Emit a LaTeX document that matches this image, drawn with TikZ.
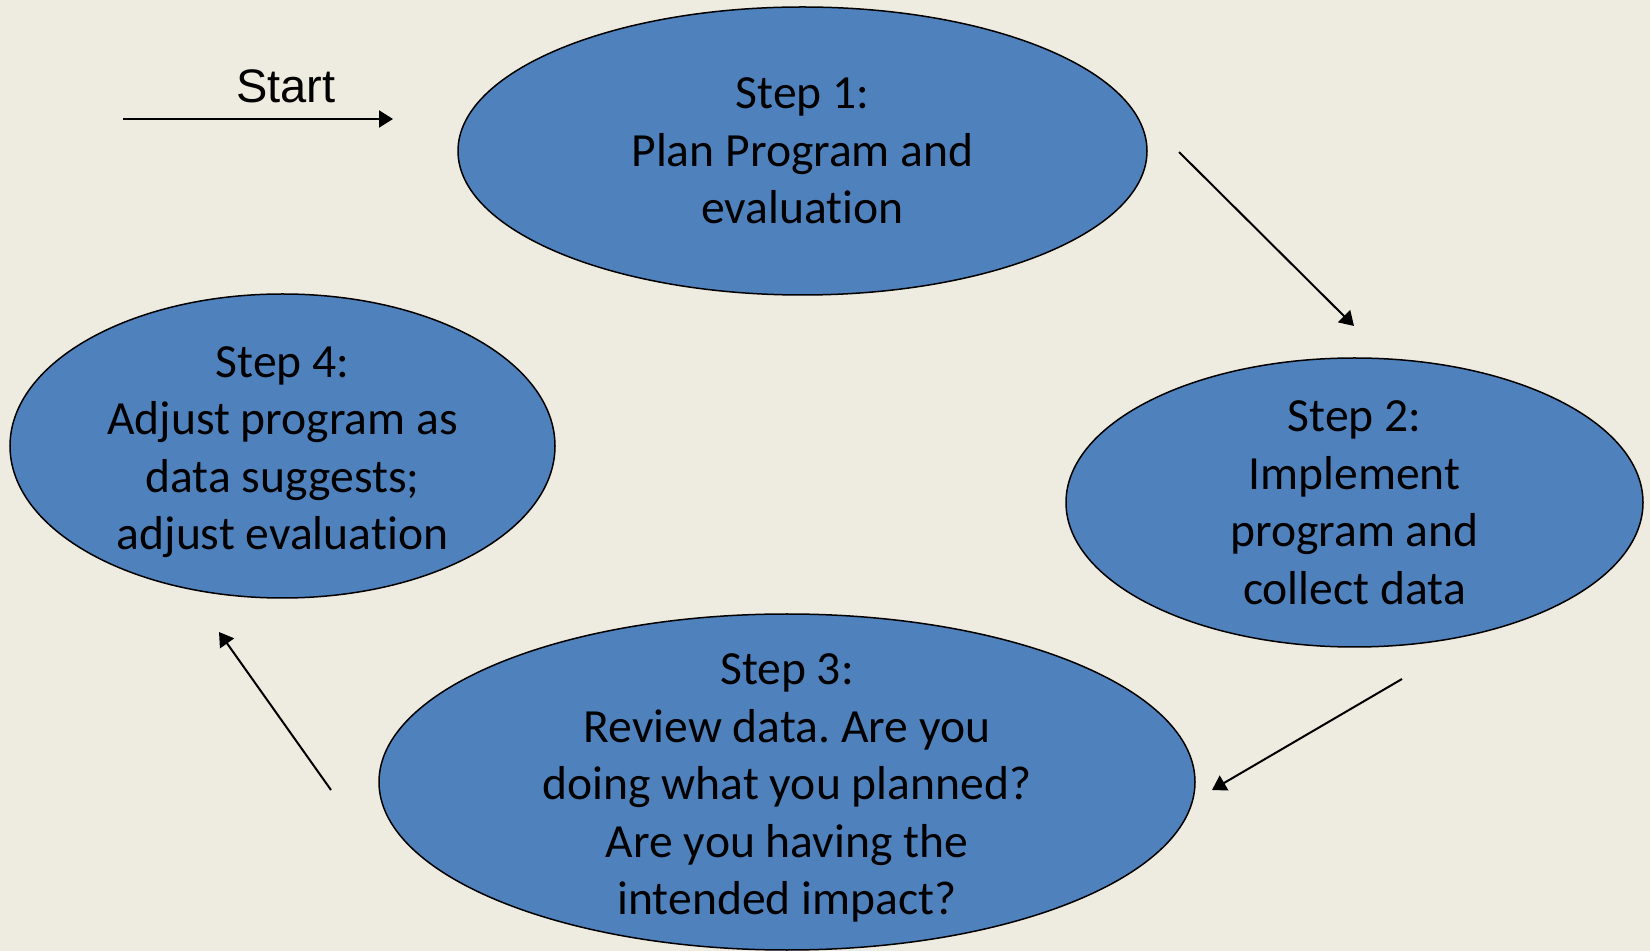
\documentclass[tikz,border=0pt]{standalone}
\usepackage{fontspec}
\setmainfont{Carlito}[Ligatures=NoCommon]
\newfontfamily\startfont{Liberation Sans}
\usepackage{xcolor}
\usetikzlibrary{shapes.geometric,arrows.meta}
\definecolor{pagebg}{RGB}{238,236,225}
\definecolor{stepblue}{RGB}{79,129,189}
\frenchspacing

\begin{document}
\begin{tikzpicture}[
    x=0.5pt, y=-0.5pt,
    stepbox/.style={ellipse, draw=black, line width=0.75pt, fill=stepblue, inner sep=0pt},
    steptext/.style={align=center, font=\fontsize{23.8}{28.75}\selectfont, inner sep=0pt},
    starttext/.style={font=\startfont\fontsize{23.5}{28}\selectfont, inner sep=0pt, anchor=base},
    flow/.style={-{Triangle[length=7pt,width=8.5pt]}, line width=1pt}
]
    % background and page size
    \fill[pagebg] (0,0) rectangle (1650,951);
    \useasboundingbox (0,0) rectangle (1650,951);

    % the four steps
    \node[stepbox, minimum width=344.5pt, minimum height=144pt,
        label={[steptext]center:{Step 1:\\Plan Program and\\evaluation}}] (s1) at (802.5,151) {};
    \node[stepbox, minimum width=288.5pt, minimum height=144.5pt,
        label={[steptext]center:{Step 2:\\Implement\\program and\\collect data}}] (s2) at (1354.5,502.5) {};
    \node[stepbox, minimum width=408pt, minimum height=168pt,
        label={[steptext, yshift=-3pt]center:{Step 3:\\Review data. Are you\\doing what you planned?\\Are you having the\\intended impact?}}] (s3) at (787,782) {};
    \node[stepbox, minimum width=272.5pt, minimum height=152pt,
        label={[steptext, yshift=-3pt]center:{Step 4:\\Adjust program as\\data suggests;\\adjust evaluation}}] (s4) at (282.5,446) {};

    \node[starttext] (start) at (286,103) {Start};

    % arrow ends
    \coordinate (go0) at (123,119);
    \coordinate (go1) at (393,119);
    \coordinate (a12) at (1179,152);
    \coordinate (b12) at (1354,326);
    \coordinate (a23) at (1402,679);
    \coordinate (b23) at (1212,790);
    \coordinate (a34) at (331,790);
    \coordinate (b34) at (219,632);

    \draw[flow] (go0) -- (go1);
    \draw[flow] (a12) -- (b12);
    \draw[flow] (a23) -- (b23);
    \draw[flow] (a34) -- (b34);
\end{tikzpicture}
\end{document}
